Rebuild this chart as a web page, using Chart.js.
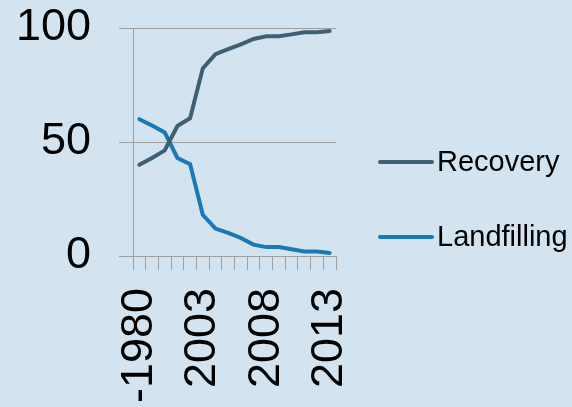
<!DOCTYPE html>
<html>
<head>
<meta charset="utf-8">
<script src="https://cdn.jsdelivr.net/npm/chart.js@4"></script>
<style>
  html, body { margin: 0; padding: 0; background: #d3e4f0; }
  #wrap { width: 572px; height: 407px; }
</style>
</head>
<body>
<div id="wrap"><canvas id="chart"></canvas></div>
<script>
const years = ['-1980', '1999', '2000', '2001', '2002', '2003', '2004', '2005',
               '2006', '2007', '2008', '2009', '2010', '2011', '2012', '2013'];
const recovery = [40, 43, 46.3, 57, 60.4, 82.3, 88.5, 90.7, 92.8, 95.2, 96.4, 96.4, 97.2, 98.1, 98.1, 98.7];
const landfilling = [60, 57.2, 54.2, 43, 40.3, 18.1, 12, 10.1, 7.9, 5, 3.9, 3.9, 3, 2, 2, 1.3];
const yTicks = [0, 50, 100];

// legend drawn by hand: short line then label, like the office chart
const lineLegend = {
  id: 'lineLegend',
  afterDraw(chart) {
    const ctx = chart.ctx;
    const ys = [162, 237];
    ctx.save();
    ctx.font = '29px "Liberation Sans", Arial, sans-serif';
    ctx.textBaseline = 'middle';
    ctx.fillStyle = '#000';
    chart.data.datasets.forEach((ds, i) => {
      ctx.strokeStyle = ds.borderColor;
      ctx.lineWidth = 4;
      ctx.lineCap = 'round';
      ctx.beginPath();
      ctx.moveTo(380, ys[i]);
      ctx.lineTo(432, ys[i]);
      ctx.stroke();
      ctx.fillText(ds.label, 437, ys[i] + 1);
    });
    ctx.restore();
  }
};

function noPad(s) {
  s.paddingTop = 0; s.paddingBottom = 0; s.paddingLeft = 0; s.paddingRight = 0;
}

new Chart(document.getElementById('chart'), {
  type: 'line',
  data: {
    labels: years,
    datasets: [
      { label: 'Recovery', data: recovery, borderColor: '#3f5f73', borderWidth: 4,
        pointRadius: 0, tension: 0, borderCapStyle: 'round' },
      { label: 'Landfilling', data: landfilling, borderColor: '#1b78b4', borderWidth: 4,
        pointRadius: 0, tension: 0, borderCapStyle: 'round' }
    ]
  },
  options: {
    responsive: true,
    maintainAspectRatio: false,
    animation: false,
    layout: { padding: { left: 16, right: 236, top: 28, bottom: 0 } },
    plugins: { legend: { display: false }, tooltip: { enabled: false } },
    scales: {
      x: {
        offset: true,
        grid: { offset: true, drawOnChartArea: false, color: '#a0a0a0', tickLength: 14, tickColor: '#a0a0a0' },
        border: { color: '#a0a0a0' },
        ticks: {
          autoSkip: false, maxRotation: 90, minRotation: 90, padding: 18,
          color: '#000', font: { family: '"Liberation Sans", Arial, sans-serif', size: 45 },
          callback: (v, i) => (i % 5 === 0 ? years[i] : '')
        },
        afterFit: s => { s.height = 151; noPad(s); }
      },
      y: {
        min: 0, max: 100,
        afterBuildTicks: s => { s.ticks = yTicks.map(v => ({ value: v })); },
        grid: { color: '#a0a0a0', tickLength: 14, tickColor: '#a0a0a0' },
        border: { color: '#a0a0a0' },
        ticks: { padding: 28, color: '#000', font: { family: '"Liberation Sans", Arial, sans-serif', size: 45 } },
        afterFit: s => { s.width = 117; noPad(s); }
      }
    }
  },
  plugins: [lineLegend]
});
</script>
</body>
</html>
